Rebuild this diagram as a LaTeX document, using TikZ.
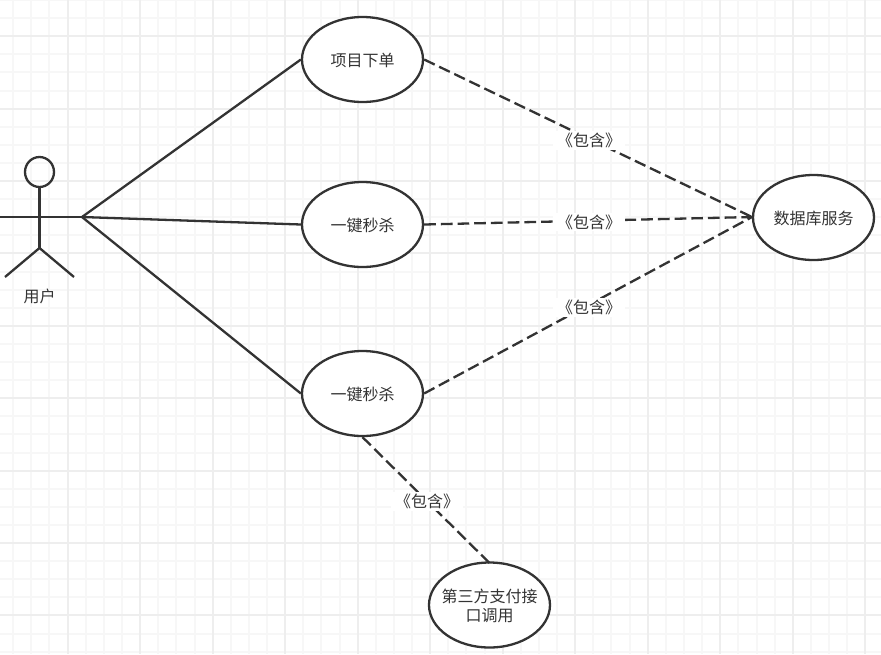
\documentclass[tikz,border=0pt]{standalone}
\usepackage{fontspec}
\setmainfont{Noto Sans CJK SC}
\usetikzlibrary{shapes.geometric}
\definecolor{ink}{HTML}{333333}
\definecolor{gridminor}{HTML}{F7F7F7}
\definecolor{gridmajor}{HTML}{EEEEEE}
\newcommand{\lowertext}[1]{\raisebox{-1pt}[\height][\depth]{#1}}
\tikzset{
  usecase/.style={draw=ink,line width=2.3pt,fill=white,ellipse,minimum width=121pt,minimum height=85pt,inner sep=0pt,align=center,font=\fontsize{16}{20}\selectfont,text=ink},
  solidlink/.style={draw=ink,line width=2.3pt},
  includelink/.style={draw=ink,line width=2.3pt,dash pattern=on 11.7pt off 5pt},
  includelabel/.style={fill=white,text=ink,inner xsep=4pt,inner ysep=2pt,font=\fontsize{16}{20}\selectfont},
}
\begin{document}
\begin{tikzpicture}[x=1pt,y=-1pt]
\useasboundingbox (0,0) rectangle (881,654);
\fill[white] (0,0) rectangle (881,654);
\foreach \i in {0,...,49} {
  \draw[gridminor,line width=1.6pt] ({round(13.2+18.13*\i)},0) -- ({round(13.2+18.13*\i)},654);
}
\foreach \i in {0,...,36} {
  \draw[gridminor,line width=1.6pt] (0,{round(18.1*\i)}) -- (881,{round(18.1*\i)});
}
\foreach \i in {0,...,11} {
  \draw[gridmajor,line width=1.6pt] ({round(67.6+72.5*\i)},0) -- ({round(67.6+72.5*\i)},654);
}
\foreach \i in {0,...,8} {
  \draw[gridmajor,line width=1.6pt] (0,{round(36.2+72.4*\i)}) -- (881,{round(36.2+72.4*\i)});
}
% free ends
\coordinate (handL) at (-1,217);
\coordinate (handR) at (82,217);
\coordinate (hip) at (39.5,248);
\coordinate (footL) at (5,277);
\coordinate (footR) at (74,277);
\coordinate (dbIn) at (752,217);
\coordinate (payTop) at (489.5,563);
% actor
\node[draw=ink,line width=2.3pt,ellipse,minimum width=29pt,minimum height=30pt,inner sep=0pt] (head) at (39.5,172) {};
\draw[solidlink] (head.south) -- (hip);
\draw[solidlink] (handL) -- (handR);
\draw[solidlink,line join=round] (footL) -- (hip) -- (footR);
\node[text=ink,font=\fontsize{16}{20}\selectfont] (actor) at (39.5,296.5) {用户};
% use cases
\node[usecase] (uc1) at (362.5,59.5) {\lowertext{项目下单}};
\node[usecase] (uc2) at (362.5,224.5) {\lowertext{一键秒杀}};
\node[usecase] (uc3) at (362.5,393.5) {\lowertext{一键秒杀}};
\node[usecase] (db) at (813.5,217.5) {\lowertext{数据库服务}};
\node[usecase,inner xsep=-10pt] (pay) at (489.5,605) {\lowertext{第三方支付接}\\[-1pt]\lowertext{口调用}};
% connectors
\draw[solidlink] (handR) -- (uc1.west);
\draw[solidlink] (handR) -- (uc2.west);
\draw[solidlink] (handR) -- (uc3.west);
\draw[includelink] (uc1.east) -- (dbIn);
\draw[includelink] (uc2.east) -- (dbIn);
\draw[includelink] (uc3.east) -- (dbIn);
\draw[includelink] (uc3.south) -- (payTop);
\node[includelabel] (l1) at (589,140.5) {《包含》};
\node[includelabel] (l2) at (589,222) {《包含》};
\node[includelabel] (l3) at (589,307.5) {《包含》};
\node[includelabel] (l4) at (427,501.5) {《包含》};
\end{tikzpicture}
\end{document}
